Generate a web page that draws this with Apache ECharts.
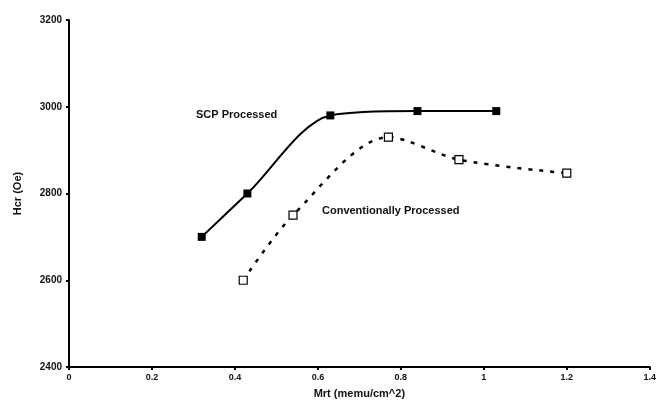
<!DOCTYPE html>
<html>
<head>
<meta charset="utf-8">
<script src="https://cdn.jsdelivr.net/npm/echarts@6/dist/echarts.min.js"></script>
<style>
  html, body { margin: 0; padding: 0; background: #fff; }
  #chart { width: 659px; height: 408px; }
</style>
</head>
<body>
<div id="chart"></div>
<script>
  // SCP processed media
  var scpMrt = [0.32, 0.43, 0.63, 0.84, 1.03]
  var scpHcr = [2700, 2800, 2980, 2990, 2990]
  // conventionally processed media
  var convMrt = [0.42, 0.54, 0.77, 0.94, 1.2]
  var convHcr = [2600, 2750, 2930, 2878, 2847]

  function pairs(xs, ys){
    var out = []
    for (var i = 0; i < xs.length; i++) out.push([xs[i], ys[i]])
    return out
  }

  var font = 'Liberation Sans, Arial, sans-serif'
  var myChart = echarts.init(document.getElementById('chart'))
  var option = {
    animation: false,
    grid: { left: 69, right: 7, top: 20, bottom: 41 },
    xAxis: {
      type: 'value',
      min: 0, max: 1.4, interval: 0.2,
      name: 'Mrt (memu/cm^2)',
      nameLocation: 'middle',
      nameGap: 21,
      nameTextStyle: { fontFamily: font, fontWeight: 'bold', fontSize: 11, color: '#111' },
      axisLine: { lineStyle: { color: '#000', width: 2 } },
      axisTick: { show: true, length: 3, lineStyle: { color: '#000', width: 2 } },
      axisLabel: { fontFamily: font, fontWeight: 'bold', fontSize: 9, color: '#111', margin: 6 },
      splitLine: { show: false }
    },
    yAxis: {
      type: 'value',
      min: 2400, max: 3200, interval: 200,
      name: 'Hcr (Oe)',
      nameLocation: 'middle',
      nameGap: 46,
      nameTextStyle: { fontFamily: font, fontWeight: 'bold', fontSize: 11, color: '#111' },
      axisLine: { show: true, lineStyle: { color: '#000', width: 2 } },
      axisTick: { show: true, length: 3, lineStyle: { color: '#000', width: 2 } },
      axisLabel: {
        fontFamily: font, fontWeight: 'bold', fontSize: 10, color: '#111', margin: 7,
        formatter: function(v){ return String(v) }
      },
      splitLine: { show: false }
    },
    series: [
      {
        type: 'line',
        name: 'SCP Processed',
        smooth: 0.3,
        data: pairs(scpMrt, scpHcr),
        symbol: 'rect',
        symbolSize: 8,
        itemStyle: { color: '#000' },
        lineStyle: { color: '#000', width: 2 }
      },
      {
        type: 'line',
        name: 'Conventionally Processed',
        smooth: 0.3,
        data: pairs(convMrt, convHcr),
        symbol: 'rect',
        symbolSize: 8,
        itemStyle: { color: '#fff', borderColor: '#000', borderWidth: 1.2 },
        lineStyle: { color: '#000', width: 2.5, type: [4, 7] }
      }
    ],
    graphic: [
      {
        type: 'text', left: 196, top: 109,
        style: { text: 'SCP Processed', font: 'bold 11px ' + font, fill: '#111' }
      },
      {
        type: 'text', left: 322, top: 205,
        style: { text: 'Conventionally Processed', font: 'bold 11px ' + font, fill: '#111' }
      }
    ]
  }
  myChart.setOption(option, true)
</script>
</body>
</html>
